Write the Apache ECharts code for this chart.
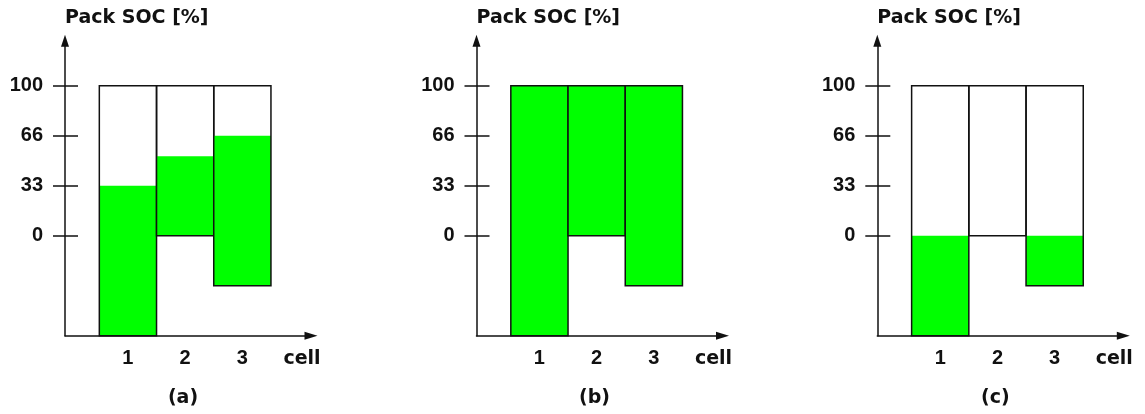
<!DOCTYPE html>
<html>
<head>
<meta charset="utf-8">
<script src="https://cdn.jsdelivr.net/npm/echarts@6/dist/echarts.min.js"></script>
<style>
  html, body { margin: 0; padding: 0; background: #ffffff; }
  #chart { width: 1145px; height: 414px; }
</style>
</head>
<body>
<div id="chart"></div>
<script>
// Cells of the pack and their usable window on the pack-SOC scale
const cells = [1, 2, 3];
const cellBottom = [-200 / 3, 0, -100 / 3];
const cellTop = [100, 100, 100];

// Filled SOC level of each cell in the three situations
const socA = [100 / 3, 53, 200 / 3];
const socB = [100, 100, 100];
const socC = [0, 0, 0];

const panelNames = ['(a)', '(b)', '(c)'];
const tickValues = [0, 100 / 3, 200 / 3, 100];
const tickLabels = ['0', '33', '66', '100'];
const yAxisName = 'Pack SOC [%]';
const xAxisName = 'cell';

const panels = [socA, socB, socC];

// Layout
const gridLefts = [65, 476.5, 877.3];
const gridTop = 40.7;
const gridHeight = 295;
const gridWidth = 246;
const yMin = -200 / 3, yMax = 130;
const xMin = -0.1, xMax = 4.2;

const ink = '#111111';
const green = '#00ff00';
const lineW = 1.5;
const numFont = { fontFamily: 'Liberation Sans', fontWeight: 'bold', fontSize: 20, color: ink };
const wordFont = { fontFamily: 'DejaVu Sans', fontWeight: 'bold', fontSize: 19, color: ink };

function labelFor(v) {
  let best = 0;
  for (let i = 1; i < tickValues.length; i++) {
    if (Math.abs(tickValues[i] - v) < Math.abs(tickValues[best] - v)) best = i;
  }
  return tickLabels[best];
}

const grid = [], xAxis = [], yAxis = [], series = [], graphic = [];

panels.forEach((soc, i) => {
  grid.push({ left: gridLefts[i], top: gridTop, width: gridWidth, height: gridHeight });

  xAxis.push({
    type: 'value', gridIndex: i, min: xMin, max: xMax,
    axisLine: { onZero: false, symbol: ['none', 'triangle'], symbolSize: [8, 13],
                lineStyle: { color: ink, width: lineW } },
    axisTick: { show: false },
    splitLine: { show: false },
    axisLabel: Object.assign({ customValues: cells, formatter: v => String(Math.round(v)), margin: 13 }, numFont),
    name: xAxisName, nameLocation: 'end', nameGap: -9,
    nameTextStyle: Object.assign({ align: 'center', verticalAlign: 'top', padding: [14, 0, 0, 0] }, wordFont)
  });

  // Left axis: labels, outward half of the tick marks and the arrow
  yAxis.push({
    type: 'value', gridIndex: i, min: yMin, max: yMax, position: 'left',
    axisLine: { show: true, onZero: false, symbol: ['none', 'triangle'], symbolSize: [8, 12],
                lineStyle: { color: ink, width: lineW } },
    axisTick: { show: true, customValues: tickValues, length: 12, inside: false,
                lineStyle: { color: ink, width: lineW } },
    splitLine: { show: false },
    axisLabel: Object.assign({ customValues: tickValues, formatter: labelFor, margin: 22 }, numFont),
    name: yAxisName, nameLocation: 'end', nameGap: 22.7,
    nameTextStyle: Object.assign({ align: 'left', verticalAlign: 'middle' }, wordFont)
  });
  // Inward half of the tick marks, so each tick crosses the axis
  yAxis.push({
    type: 'value', gridIndex: i, min: yMin, max: yMax, position: 'left',
    axisLine: { show: false, onZero: false },
    axisTick: { show: true, customValues: tickValues, length: 13, inside: true,
                lineStyle: { color: ink, width: lineW } },
    splitLine: { show: false },
    axisLabel: { show: false }
  });

  series.push({
    type: 'custom',
    xAxisIndex: i, yAxisIndex: 2 * i,
    data: cells.map((c, k) => [c, cellBottom[k], cellTop[k], soc[k]]),
    encode: { x: 0, y: [1, 2] },
    renderItem: (params, api) => {
      const x = api.value(0), lo = api.value(1), hi = api.value(2), lev = api.value(3);
      const pLo = api.coord([x - 0.5, lo]);
      const pHi = api.coord([x + 0.5, hi]);
      const pLev = api.coord([x + 0.5, lev]);
      const children = [];
      if (lev > lo) {
        children.push({
          type: 'rect',
          shape: { x: pLo[0], y: pLev[1], width: pHi[0] - pLo[0], height: pLo[1] - pLev[1] },
          style: { fill: green }
        });
      }
      children.push({
        type: 'rect',
        shape: { x: pLo[0], y: pHi[1], width: pHi[0] - pLo[0], height: pLo[1] - pHi[1] },
        style: { fill: 'none', stroke: ink, lineWidth: lineW }
      });
      return { type: 'group', children };
    }
  });

  graphic.push({
    type: 'text', x: gridLefts[i] + 118, y: 398,
    style: { text: panelNames[i], align: 'center', verticalAlign: 'middle',
             font: 'bold 19px "DejaVu Sans"', fill: ink }
  });
});

const chart = echarts.init(document.getElementById('chart'));
chart.setOption({
  animation: false,
  backgroundColor: '#ffffff',
  grid, xAxis, yAxis, series, graphic
});
</script>
</body>
</html>
